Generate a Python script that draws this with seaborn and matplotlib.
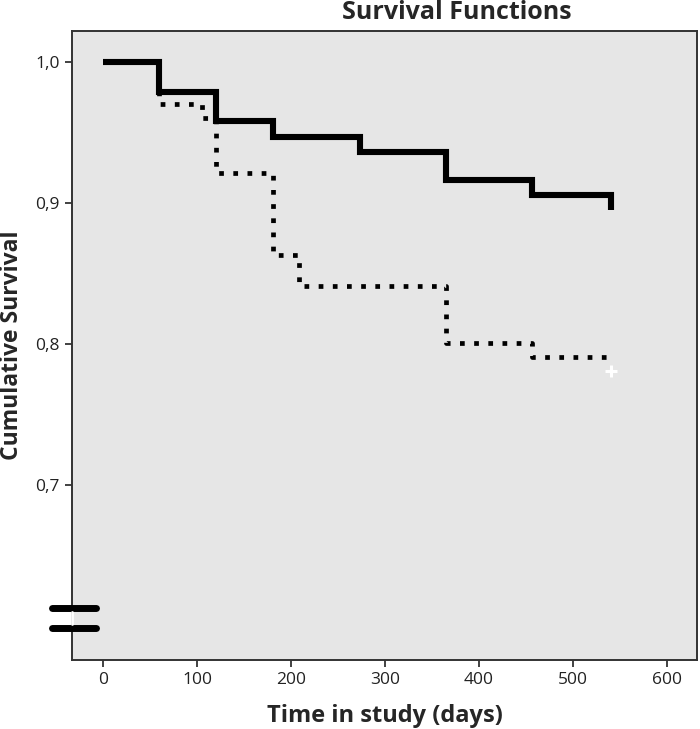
import matplotlib
matplotlib.use("Agg")
import matplotlib.pyplot as plt
import seaborn as sns
import pandas as pd

# Kaplan-Meier step data
solid_days = [0, 60, 120, 181, 273, 365, 456, 540]
solid_surv = [1.0, 0.979, 0.958, 0.947, 0.936, 0.916, 0.906, 0.895]
dotted_days = [0, 60, 105, 120, 181, 208, 365, 456, 540]
dotted_surv = [1.0, 0.970, 0.960, 0.921, 0.863, 0.841, 0.801, 0.791, 0.789]
censor_day = [540]
censor_surv = [0.781]

x_ticks = [0, 100, 200, 300, 400, 500, 600]
y_ticks = [0.7, 0.8, 0.9, 1.0]
y_tick_labels = ["0,7", "0,8", "0,9", "1,0"]

sns.set_theme(style="ticks")
plt.rcParams["font.family"] = ["Open Sans", "DejaVu Sans"]

fig = plt.figure(figsize=(7, 7.29), dpi=100)
ax = fig.add_axes([0.1029, 0.0947, 0.8928, 0.8628])
ax.set_facecolor("#E6E6E6")

df_solid = pd.DataFrame({"days": solid_days, "surv": solid_surv})
df_dot = pd.DataFrame({"days": dotted_days, "surv": dotted_surv})

sns.lineplot(data=df_solid, x="days", y="surv", ax=ax, color="black",
             linewidth=4.4, drawstyle="steps-post", estimator=None,
             sort=False, solid_joinstyle="miter", solid_capstyle="butt")
sns.lineplot(data=df_dot, x="days", y="surv", ax=ax, color="black",
             linewidth=3.4, drawstyle="steps-post", estimator=None,
             sort=False, linestyle=(0, (1, 2.0)), dash_capstyle="butt")
ax.plot(censor_day, censor_surv, marker="+", color="white",
        markersize=9, markeredgewidth=2.2, linestyle="none")

ax.set_xlim(-33, 632)
ax.set_ylim(0.5759, 1.022)
ax.set_xticks(x_ticks)
ax.set_yticks(y_ticks)
ax.set_yticklabels(y_tick_labels)

# axis break marks
for yb in [0.6128, 0.5986]:
    ax.plot([-54, -7], [yb, yb], color="black", lw=5,
            solid_capstyle="round", clip_on=False, zorder=5)
ax.plot([-33, -33], [0.6015, 0.6099], color="white", lw=2, clip_on=False, zorder=6)

for s in ax.spines.values():
    s.set_color("#333333")
    s.set_linewidth(1.4)
ax.tick_params(direction="out", length=5, width=1.3, color="#333333",
               labelsize=12.5, labelcolor="#222222", pad=4)

ax.set_xlabel("Time in study (days)", fontsize=17, fontweight="bold", labelpad=11)
ax.set_ylabel("Cumulative Survival", fontsize=16.5, fontweight="bold", labelpad=8)
fig.text(0.653, 0.983, "Survival Functions", ha="center", va="center",
         fontsize=18, fontweight="bold")

fig.savefig("out.png", dpi=100, facecolor="white")
